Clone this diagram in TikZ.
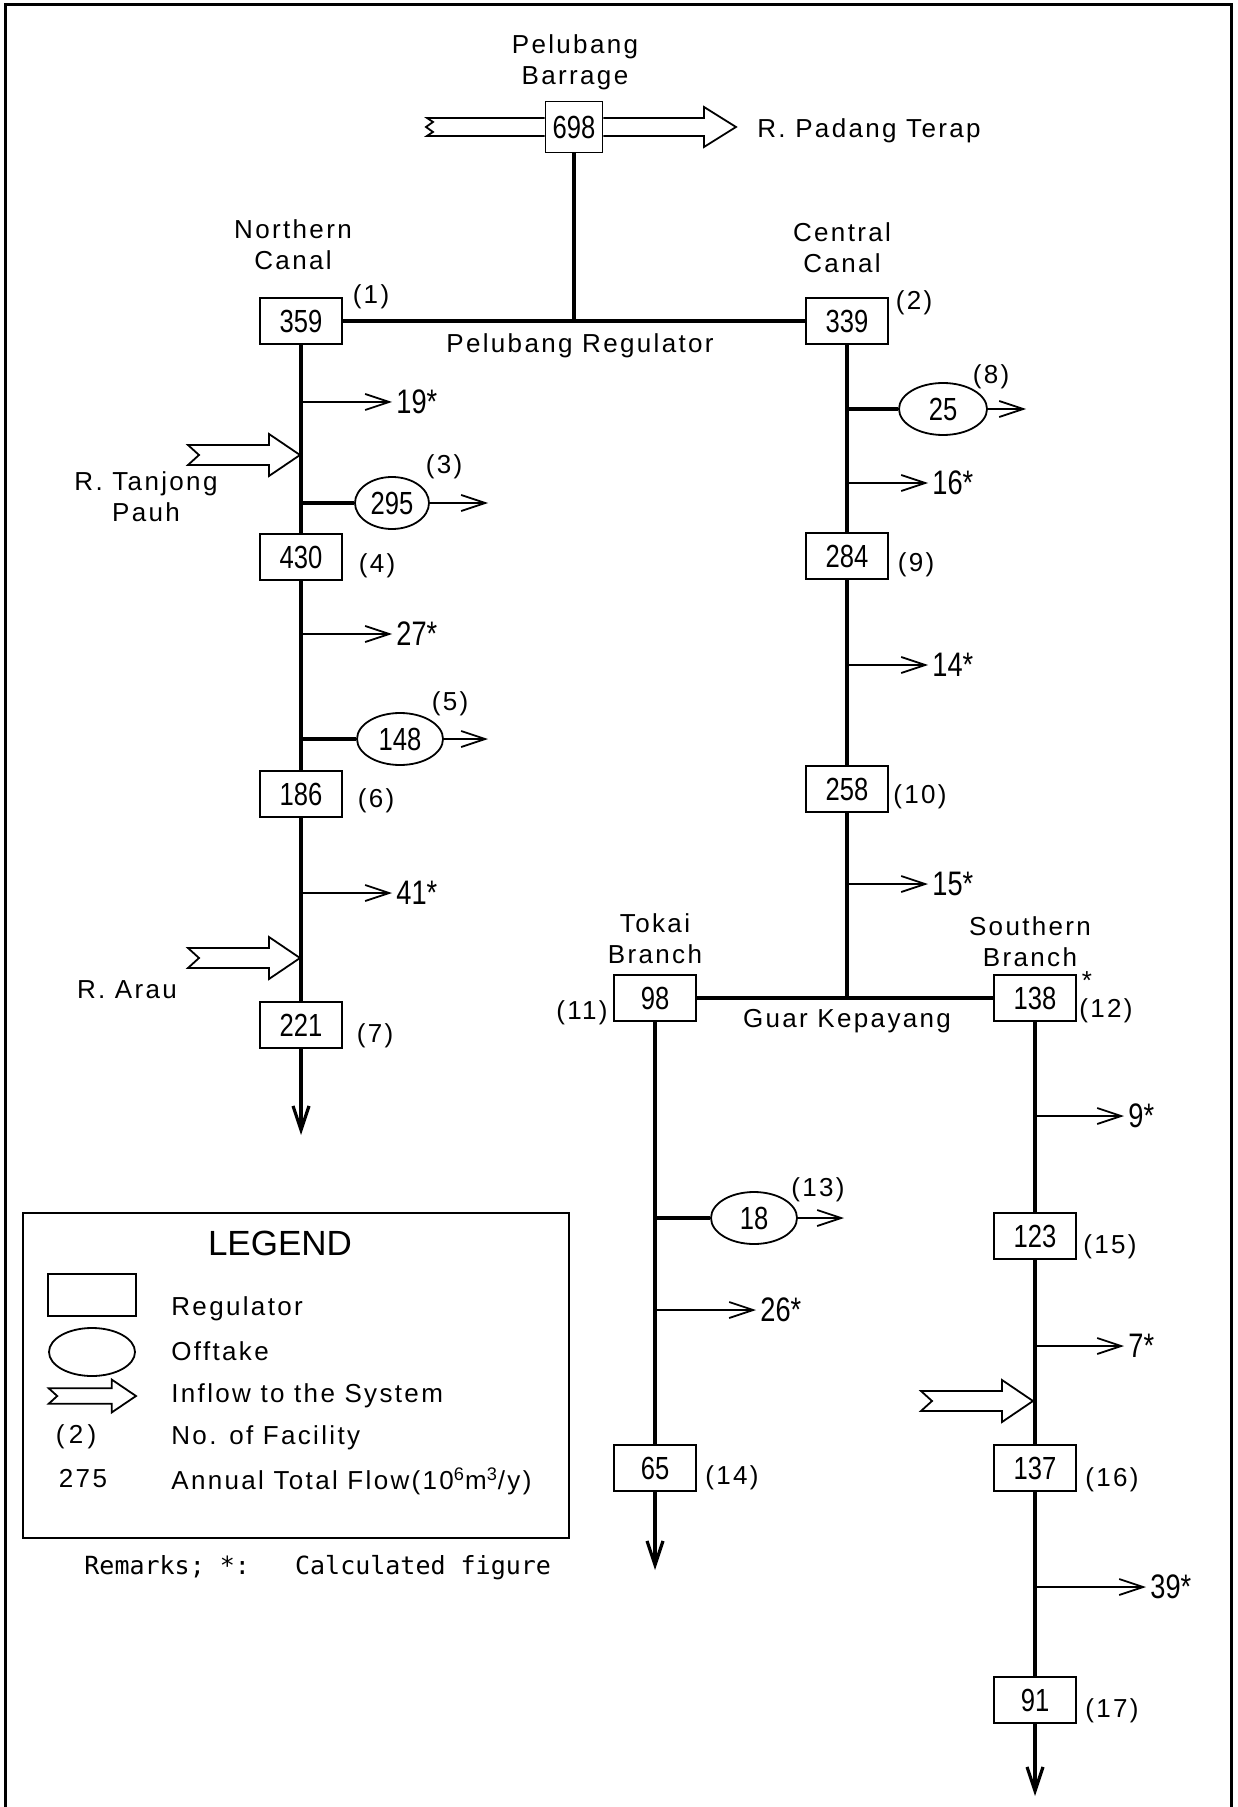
\documentclass[tikz,border=0pt]{standalone}
\usepackage{fontspec}
\setmainfont[LetterSpace=9]{Liberation Sans}
\newfontfamily\numfont[FakeStretch=0.8]{Liberation Sans}
\newfontfamily\legfont{Liberation Sans}
\newfontfamily\remfont{DejaVu Sans Mono}
\usetikzlibrary{arrows.meta,positioning,shapes.geometric}

\tikzset{
  inflow/.pic={
    \draw[line width=0.9pt, fill=white]
      (-112,-10) -- (-31,-10) -- (-31,-21) -- (0,0) -- (-31,21) -- (-31,10)
      -- (-112,10) -- (-101,0) -- cycle;
  }
}

\begin{document}
\begin{tikzpicture}[x=0.5pt, y=-0.5pt,
  canal/.style={line width=1.6pt},
  barb/.style={-{Straight Barb[length=12pt,width=8pt]}},
  flow/.style={line width=0.9pt, barb},
  reg/.style={draw, line width=0.9pt, minimum width=41pt, minimum height=23pt,
    inner sep=0pt, font=\numfont\fontsize{16}{18}\selectfont},
  offtake/.style={draw, ellipse, line width=0.9pt, minimum width=38pt,
    minimum height=26pt, inner sep=0pt, font=\numfont\fontsize{16}{18}\selectfont},
  lbl/.style={font=\fontsize{13}{15.5}\selectfont, align=center, inner sep=0pt},
  val/.style={font=\numfont\fontsize{17}{19}\selectfont, inner sep=0pt, anchor=west}]

  \useasboundingbox (0,0) rectangle (1237,1807);
  % Frame
  \draw[line width=1.5pt] (5,1807) -- (5,5) -- (1231,5) -- (1231,1807);

  % Barrage
  \node[reg, minimum width=28.5pt, minimum height=25.5pt] (r0) at (574,127) {698};
  \node[lbl] (barlbl) at (575,62) {Pelubang\\Barrage};
  \draw[line width=0.9pt] (r0.west |- 0,118) -- (427,118) -- (433,122) -- (426,127)
    -- (433,132) -- (427,136) -- (r0.west |- 0,136);
  \draw[line width=0.9pt] (r0.east |- 0,118) -- (704,118) -- (704,107) -- (736,127)
    -- (704,147) -- (704,136) -- (r0.east |- 0,136);
  \node[lbl, anchor=west] (padang) at (757,131) {R. Padang Terap};

  % Pelubang Regulator
  \node[reg] (r1) at (301,321) {359};
  \node[reg] (r2) at (847,321) {339};
  \coordinate (jb) at (574,321);
  \draw[canal] (r1) -- (r2);
  \draw[canal] (r0) -- (jb);
  \node[lbl] (preg) at (580,346) {Pelubang Regulator};
  \node[lbl] (nlbl) at (293,245) {Northern\\Canal};
  \node[lbl] (clbl) at (842,248) {Central\\Canal};
  \node[lbl] (f1) at (371,297) {(1)};
  \node[lbl] (f2) at (914,303) {(2)};

  % Northern Canal
  \node[reg] (r4) at (301,557) {430};
  \node[reg] (r6) at (301,794) {186};
  \node[reg] (r7) at (301,1025) {221};
  \coordinate (endN) at (301,1135);
  \draw[canal] (r1) -- (r4);
  \draw[canal] (r4) -- (r6);
  \draw[canal] (r6) -- (r7);
  \draw[canal, barb] (r7) -- (endN);
  \node[lbl] (f4) at (377,566) {(4)};
  \node[lbl] (f6) at (376,801) {(6)};
  \node[lbl] (f7) at (375,1036) {(7)};

  \coordinate (j19) at (301,402);
  \node[val] (v19) at (396,402) {19*};
  \draw[flow] (j19) -- ([xshift=-2pt]v19.west);
  \coordinate (j27) at (301,634);
  \node[val] (v27) at (396,634) {27*};
  \draw[flow] (j27) -- ([xshift=-2pt]v27.west);
  \coordinate (j41) at (301,893);
  \node[val] (v41) at (396,893) {41*};
  \draw[flow] (j41) -- ([xshift=-2pt]v41.west);

  \coordinate (j3) at (301,503);
  \node[offtake, minimum width=37pt] (o3) at (392,503) {295};
  \coordinate (e3) at (488,503);
  \draw[canal] (j3) -- (o3);
  \draw[flow] (o3) -- (e3);
  \node[lbl] (f3) at (444,467) {(3)};
  \coordinate (j5) at (301,739);
  \node[offtake, minimum width=43pt] (o5) at (400,739) {148};
  \coordinate (e5) at (488,739);
  \draw[canal] (j5) -- (o5);
  \draw[flow] (o5) -- (e5);
  \node[lbl] (f5) at (450,704) {(5)};

  \pic at (300,455) {inflow};
  \node[lbl] (tanjong) at (146,497) {R. Tanjong\\Pauh};
  \pic at (300,958) {inflow};
  \node[lbl] (arau) at (127,990) {R. Arau};

  % Central Canal
  \node[reg] (r9) at (847,556) {284};
  \node[reg] (r10) at (847,789) {258};
  \coordinate (jg) at (847,998);
  \draw[canal] (r2) -- (r9);
  \draw[canal] (r9) -- (r10);
  \draw[canal] (r10) -- (jg);
  \node[lbl] (f9) at (916,565) {(9)};
  \node[lbl] (f10) at (920,797) {(10)};

  \coordinate (j8) at (847,409);
  \node[offtake, minimum width=44pt] (o8) at (943,409) {25};
  \coordinate (e8) at (1026,409);
  \draw[canal] (j8) -- (o8);
  \draw[flow] (o8) -- (e8);
  \node[lbl] (f8) at (991,377) {(8)};

  \coordinate (j16) at (847,483);
  \node[val] (v16) at (932,483) {16*};
  \draw[flow] (j16) -- ([xshift=-2pt]v16.west);
  \coordinate (j14) at (847,665);
  \node[val] (v14) at (932,665) {14*};
  \draw[flow] (j14) -- ([xshift=-2pt]v14.west);
  \coordinate (j15) at (847,884);
  \node[val] (v15) at (932,884) {15*};
  \draw[flow] (j15) -- ([xshift=-2pt]v15.west);

  % Guar Kepayang
  \node[reg] (r11) at (655,998) {98};
  \node[reg] (r12) at (1035,998) {138};
  \draw[canal] (r11) -- (r12);
  \node[lbl] (guar) at (847,1021) {Guar Kepayang};
  \node[lbl] (tlbl) at (655,939) {Tokai\\Branch};
  \node[lbl] (slbl) at (1030,942) {Southern\\Branch};
  \node[lbl] (f11) at (582,1013) {(11)};
  \node[lbl] (f12) at (1106,1011) {(12)};
  \node[lbl] (s12) at (1087,981) {*};

  % Tokai Branch
  \node[reg] (r14) at (655,1468) {65};
  \coordinate (endT) at (655,1570);
  \draw[canal] (r11) -- (r14);
  \draw[canal, barb] (r14) -- (endT);
  \node[lbl] (f14) at (732,1478) {(14)};
  \coordinate (j13) at (655,1218);
  \node[offtake, minimum width=43pt] (o13) at (754,1218) {18};
  \coordinate (e13) at (844,1218);
  \draw[canal] (j13) -- (o13);
  \draw[flow] (o13) -- (e13);
  \node[lbl] (f13) at (818,1190) {(13)};
  \coordinate (j26) at (655,1310);
  \node[val] (v26) at (760,1310) {26*};
  \draw[flow] (j26) -- ([xshift=-2pt]v26.west);

  % Southern Branch
  \node[reg] (r15) at (1035,1236) {123};
  \node[reg] (r16) at (1035,1468) {137};
  \node[reg] (r17) at (1035,1700) {91};
  \coordinate (endS) at (1035,1796);
  \draw[canal] (r12) -- (r15);
  \draw[canal] (r15) -- (r16);
  \draw[canal] (r16) -- (r17);
  \draw[canal, barb] (r17) -- (endS);
  \node[lbl] (f15) at (1110,1247) {(15)};
  \node[lbl] (f16) at (1112,1480) {(16)};
  \node[lbl] (f17) at (1112,1711) {(17)};
  \coordinate (j9) at (1035,1116);
  \node[val] (v9) at (1128,1116) {9*};
  \draw[flow] (j9) -- ([xshift=-2pt]v9.west);
  \coordinate (j7) at (1035,1346);
  \node[val] (v7) at (1128,1346) {7*};
  \draw[flow] (j7) -- ([xshift=-2pt]v7.west);
  \coordinate (j39) at (1035,1587);
  \node[val] (v39) at (1150,1587) {39*};
  \draw[flow] (j39) -- ([xshift=-2pt]v39.west);
  \pic at (1033,1401) {inflow};

  % Legend
  \draw[line width=1.3pt] (23,1213) rectangle (569,1538);
  \node[font=\legfont\fontsize{17.5}{20}\selectfont] (leg) at (280,1243) {LEGEND};
  \draw[line width=0.9pt] (48,1274) rectangle (136,1316);
  \node[draw, ellipse, line width=0.9pt, minimum width=43pt, minimum height=24pt] (legoff) at (92,1352) {};
  \pic[scale=0.78] at (136,1396) {inflow};
  \node[lbl] (legno) at (76,1437) {(\,2\,)};
  \node[lbl] (legval) at (83,1479) {275};
  \node[lbl, anchor=west] (t1) at (171,1309) {Regulator};
  \node[lbl, anchor=west] (t2) at (171,1351) {Offtake};
  \node[lbl, anchor=west] (t3) at (171,1396) {Inflow to the System};
  \node[lbl, anchor=west] (t4) at (171,1438) {No. of Facility};
  \node[lbl, anchor=west] (t5) at (171,1481) {Annual Total Flow(10\textsuperscript{6}m\textsuperscript{3}/y)};
  \node[font=\remfont\fontsize{12.5}{14}\selectfont, anchor=west, inner sep=0pt] (rem) at (84,1568) {Remarks;~*:~~~Calculated figure};
\end{tikzpicture}
\end{document}
